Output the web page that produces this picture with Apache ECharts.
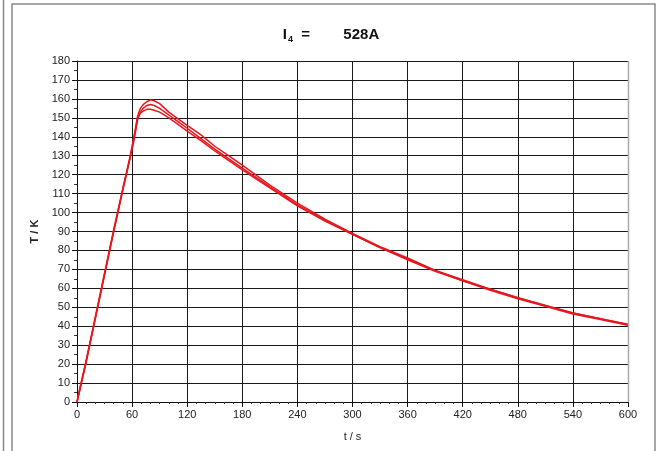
<!DOCTYPE html>
<html>
<head>
<meta charset="utf-8">
<script src="https://cdn.jsdelivr.net/npm/echarts@6/dist/echarts.min.js"></script>
<style>
  html, body { margin: 0; padding: 0; background: #fff; }
  #chart { width: 662px; height: 451px; }
</style>
</head>
<body>
<div id="chart"></div>
<script>
// Measurement times in seconds
const timeS = [0, 3, 10, 20, 30, 40, 50, 58, 62, 66, 69, 72, 76, 80, 84, 90, 100, 110, 120, 135, 150, 165, 180, 210, 240, 270, 300, 330, 360, 390, 420, 450, 480, 510, 540, 570, 600];

// Temperature rise T / K for the three sensors
const sensorA = [0, 7, 22, 45, 68, 91, 113, 130, 140, 151, 155, 157, 158.5, 159.5, 159, 157.5, 153, 149.5, 146, 141, 135, 130, 125, 114.5, 105, 96.5, 89, 82, 76, 69.5, 64.5, 59.5, 55, 51, 47, 44, 41];
const sensorB = [0, 6, 21, 44, 67, 90, 112, 129, 138, 149, 153, 155, 156.5, 157, 156.5, 155, 151.5, 148, 144.5, 139, 133.5, 128.5, 123.5, 113.5, 104, 96, 88.5, 81.5, 75.5, 69.5, 64, 59.5, 55, 51, 47, 44, 40.8];
const sensorC = [0, 6.5, 21.5, 44.5, 67.5, 90.5, 112.5, 129.5, 139, 150, 152.5, 153.5, 154.5, 154.5, 154, 153, 150, 146.5, 143, 138, 132.5, 127.5, 122.5, 113, 103.5, 95.5, 88.5, 81.5, 75, 69, 64, 59, 54.5, 50.5, 46.5, 43.5, 40.5];

const xTicks = { min: 0, max: 600, step: 60 };
const yTicks = { min: 0, max: 180, step: 10 };

const pairs = (ys) => timeS.map((t, i) => [t, ys[i]]);

const lineColor = '#e8161e';
const mkSeries = (name, ys) => ({
  name: name,
  type: 'line',
  data: pairs(ys),
  showSymbol: false,
  smooth: false,
  lineStyle: { color: lineColor, width: 1.5 },
  animation: false
});

const chart = echarts.init(document.getElementById('chart'), null, { renderer: 'canvas' });
const font = 'Liberation Sans, Arial, sans-serif';

chart.setOption({
  backgroundColor: '#fff',
  animation: false,
  title: {
    text: '{n|I}{s|4}{n|  =        528A}',
    left: 'center',
    top: 21,
    textStyle: {
      rich: {
        n: { fontFamily: font, fontWeight: 'bold', fontSize: 15, color: '#111' },
        s: { fontFamily: font, fontWeight: 'bold', fontSize: 9, color: '#111', verticalAlign: 'bottom', padding: [9, 0, 0, 1] }
      }
    }
  },
  grid: { left: 77, top: 61, width: 551, height: 341, containLabel: false, show: false },
  xAxis: {
    type: 'value',
    min: xTicks.min, max: xTicks.max, interval: xTicks.step,
    name: 't / s',
    nameLocation: 'middle',
    nameGap: 29,
    nameTextStyle: { fontFamily: font, fontSize: 11, color: '#222' },
    axisLine: { show: true, lineStyle: { color: '#111', width: 1 } },
    axisTick: { show: true, length: 5, lineStyle: { color: '#111' } },
    minorTick: { show: true, splitNumber: 6, length: 2, lineStyle: { color: '#333' } },
    axisLabel: { fontFamily: font, fontSize: 11, color: '#222', margin: 7 },
    splitLine: { show: true, lineStyle: { color: '#1a1a1a', width: 1 } }
  },
  yAxis: {
    type: 'value',
    min: yTicks.min, max: yTicks.max, interval: yTicks.step,
    name: 'T / K',
    nameLocation: 'middle',
    nameGap: 36,
    nameRotate: 90,
    nameTextStyle: { fontFamily: font, fontSize: 11, fontWeight: 'bold', color: '#222' },
    axisLine: { show: true, lineStyle: { color: '#111', width: 1 } },
    axisTick: { show: true, length: 5, lineStyle: { color: '#111' } },
    minorTick: { show: true, splitNumber: 2, length: 3, lineStyle: { color: '#333' } },
    axisLabel: { fontFamily: font, fontSize: 11, color: '#222', margin: 7 },
    splitLine: { show: true, lineStyle: { color: '#1a1a1a', width: 1 } }
  },
  graphic: [
    { type: 'rect', shape: { x: 12, y: 4, width: 643, height: 460 }, style: { fill: 'none', stroke: '#8a8a8a', lineWidth: 1.5 }, z: 0 },
    { type: 'line', shape: { x1: 3.5, y1: 0, x2: 3.5, y2: 451 }, style: { stroke: '#8a8a8a', lineWidth: 1.5 } },
    { type: 'line', shape: { x1: 628.5, y1: 61, x2: 628.5, y2: 402 }, style: { stroke: '#aaaaaa', lineWidth: 1.5 }, z: 5 }
  ],
  series: [
    mkSeries('A', sensorA),
    mkSeries('B', sensorB),
    mkSeries('C', sensorC)
  ]
});
</script>
</body>
</html>
